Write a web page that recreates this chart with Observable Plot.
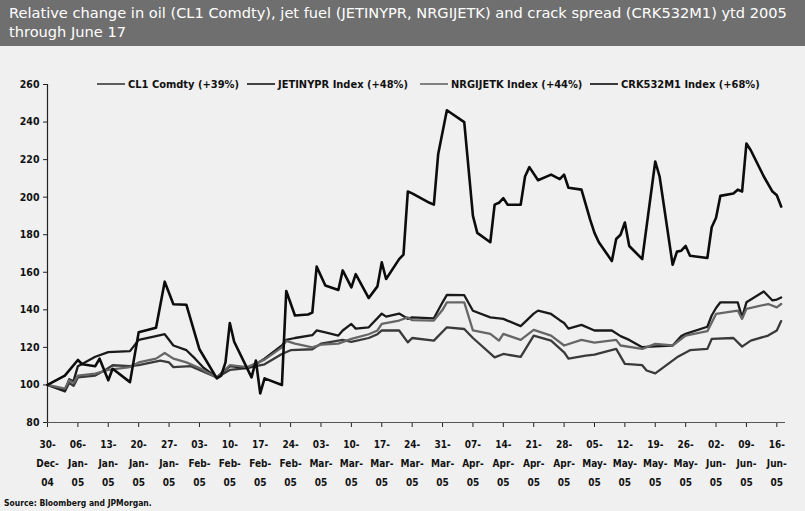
<!DOCTYPE html>
<html>
<head>
<meta charset="utf-8">
<script src="https://cdn.jsdelivr.net/npm/d3@7"></script>
<script src="https://cdn.jsdelivr.net/npm/@observablehq/plot@0.6"></script>
<style>
  html, body { margin: 0; padding: 0; width: 805px; height: 511px; overflow: hidden; background: #f0f0f0; }
  body { position: relative; font-family: "DejaVu Sans Condensed", "DejaVu Sans", sans-serif; color: #111; }
  #title { position: absolute; left: 0; top: 0; width: 805px; height: 46px; background: #6f6f6f; color: #fff;
           font-family: "DejaVu Sans", sans-serif; font-size: 14.6px; line-height: 19px; padding: 3px 0 0 9px; box-sizing: border-box; white-space: nowrap; }
  #chart { position: absolute; left: 0; top: 50px; }
  .leg { position: absolute; top: 77px; height: 14px; display: flex; align-items: center; font-size: 11px; font-weight: bold; white-space: nowrap; }
  .leg svg { margin-right: 3px; }
  #source { position: absolute; left: 4px; top: 498px; font-size: 8.5px; font-weight: bold; }
</style>
</head>
<body>
<div id="title">Relative change in oil (CL1 Comdty), jet fuel (JETINYPR, NRGIJETK) and crack spread (CRK532M1) ytd 2005<br>through June 17</div>
<div id="chart"></div>
<div id="source">Source: Bloomberg and JPMorgan.</div>
<script>
// ---- data ----
const seriesNames = ["CL1 Comdty (+39%)", "JETINYPR Index (+48%)", "NRGIJETK Index (+44%)", "CRK532M1 Index (+68%)"];

const cl1Dates = ["2004-12-30","2005-01-03","2005-01-04","2005-01-05","2005-01-06","2005-01-10","2005-01-12","2005-01-14","2005-01-18","2005-01-20","2005-01-25","2005-01-27","2005-01-28","2005-02-01","2005-02-03","2005-02-07","2005-02-10","2005-02-14","2005-02-16","2005-02-18","2005-02-22","2005-02-24","2005-03-01","2005-03-03","2005-03-08","2005-03-10","2005-03-14","2005-03-16","2005-03-17","2005-03-21","2005-03-23","2005-03-24","2005-03-29","2005-04-01","2005-04-05","2005-04-07","2005-04-12","2005-04-14","2005-04-18","2005-04-21","2005-04-25","2005-04-28","2005-04-29","2005-05-03","2005-05-05","2005-05-10","2005-05-12","2005-05-16","2005-05-17","2005-05-19","2005-05-24","2005-05-27","2005-05-31","2005-06-01","2005-06-06","2005-06-08","2005-06-10","2005-06-14","2005-06-16","2005-06-17"];
const cl1Values = [100,96.5,101,99.5,104,105,107.5,110.5,110,110.5,113,112,109.5,110,108,104,108,109,110,111,116.5,118.5,119,122,124,123,125,127,129,129,122.7,125,123.6,130.7,129.8,125,114.7,116.5,115,126.3,123.6,117.4,114,115.6,116.2,119.2,111.2,110.5,107.7,106.2,114.7,118.5,119.2,124.5,125,120.4,123.6,126.3,129,134];

const jetDates = ["2004-12-30","2005-01-03","2005-01-04","2005-01-05","2005-01-06","2005-01-10","2005-01-13","2005-01-18","2005-01-20","2005-01-24","2005-01-26","2005-01-28","2005-01-31","2005-02-02","2005-02-04","2005-02-07","2005-02-10","2005-02-14","2005-02-16","2005-02-18","2005-02-22","2005-02-23","2005-02-25","2005-03-01","2005-03-02","2005-03-04","2005-03-07","2005-03-08","2005-03-10","2005-03-11","2005-03-14","2005-03-17","2005-03-18","2005-03-21","2005-03-23","2005-03-24","2005-03-29","2005-03-31","2005-04-01","2005-04-05","2005-04-07","2005-04-11","2005-04-14","2005-04-18","2005-04-21","2005-04-22","2005-04-25","2005-04-27","2005-04-28","2005-04-29","2005-05-02","2005-05-05","2005-05-09","2005-05-11","2005-05-13","2005-05-16","2005-05-19","2005-05-23","2005-05-25","2005-05-26","2005-05-31","2005-06-01","2005-06-02","2005-06-03","2005-06-07","2005-06-08","2005-06-09","2005-06-13","2005-06-15","2005-06-16","2005-06-17"];
const jetValues = [100,97,103,102,110,115,117.5,118,124,126,127,121,118.5,114,109,104,110,109,111,114,121,124,125,126.5,129,128,126.3,129,132.5,130,130.7,138,136.4,138,135.2,136,135.5,144,148,147.8,139.5,136,135.2,131.3,138,139.6,137.8,134.5,133,130,132,129,129,126,124,120.1,120.5,121,126,127.2,131,137,141,144,144,136,144,149.8,145,145.5,146.6];

const nrgDates = ["2004-12-30","2005-01-03","2005-01-04","2005-01-05","2005-01-06","2005-01-10","2005-01-13","2005-01-18","2005-01-20","2005-01-24","2005-01-26","2005-01-28","2005-01-31","2005-02-03","2005-02-07","2005-02-10","2005-02-14","2005-02-16","2005-02-18","2005-02-22","2005-02-23","2005-02-25","2005-03-01","2005-03-03","2005-03-07","2005-03-10","2005-03-14","2005-03-16","2005-03-17","2005-03-21","2005-03-23","2005-03-24","2005-03-29","2005-03-31","2005-04-01","2005-04-05","2005-04-07","2005-04-11","2005-04-13","2005-04-14","2005-04-18","2005-04-21","2005-04-25","2005-04-28","2005-05-02","2005-05-05","2005-05-10","2005-05-11","2005-05-16","2005-05-19","2005-05-23","2005-05-26","2005-05-31","2005-06-02","2005-06-07","2005-06-08","2005-06-09","2005-06-14","2005-06-16","2005-06-17"];
const nrgValues = [100,98,102.5,101,105,106,108,109.5,112,114,117,114,112,109,104,110.5,109.5,111.5,113.5,120,123.5,122,120,121.5,122,124.5,127,129,132.5,134.3,136,134.5,134.3,140,144,144,129,127.2,123.6,127.2,124,129.3,126.3,121,124,122.5,124,121,119.2,121.9,121,126.3,128.6,137.8,139.6,135.2,140.5,143.1,141.3,143.1];

const crkDates = ["2004-12-30","2005-01-03","2005-01-06","2005-01-07","2005-01-10","2005-01-11","2005-01-13","2005-01-14","2005-01-18","2005-01-20","2005-01-24","2005-01-26","2005-01-28","2005-01-31","2005-02-03","2005-02-07","2005-02-08","2005-02-09","2005-02-10","2005-02-11","2005-02-15","2005-02-16","2005-02-17","2005-02-18","2005-02-22","2005-02-23","2005-02-25","2005-02-28","2005-03-01","2005-03-02","2005-03-04","2005-03-07","2005-03-08","2005-03-10","2005-03-11","2005-03-14","2005-03-16","2005-03-17","2005-03-18","2005-03-21","2005-03-22","2005-03-23","2005-03-24","2005-03-28","2005-03-29","2005-03-30","2005-04-01","2005-04-05","2005-04-07","2005-04-08","2005-04-11","2005-04-12","2005-04-13","2005-04-14","2005-04-15","2005-04-18","2005-04-19","2005-04-20","2005-04-22","2005-04-25","2005-04-27","2005-04-28","2005-04-29","2005-05-02","2005-05-03","2005-05-04","2005-05-05","2005-05-06","2005-05-09","2005-05-10","2005-05-11","2005-05-12","2005-05-13","2005-05-16","2005-05-19","2005-05-20","2005-05-23","2005-05-24","2005-05-25","2005-05-26","2005-05-27","2005-05-31","2005-06-01","2005-06-02","2005-06-03","2005-06-06","2005-06-07","2005-06-08","2005-06-09","2005-06-10","2005-06-13","2005-06-15","2005-06-16","2005-06-17"];
const crkValues = [100,105,113.3,111,110,114,102.5,108.6,101.5,128,130.5,155,143,142.7,119,103.5,105,112,133,123,104,113,95.5,103.5,100,150,137,137.5,138.5,163,153,150.6,161,152,159,146.3,152.5,165.3,156.4,167,169.4,203,202,197,196,223,246.3,240,190,181,176,196,197,199.5,196,196,211,216,209,212,209.6,212,205,204,196,188,181,176,166,177.7,180,186.5,174,167,219,211,164,171,171.5,174,168.8,167.6,184,189,200.7,202,204,203,228.6,225,211,203,201,195];

const tickDates = ["2004-12-30","2005-01-06","2005-01-13","2005-01-20","2005-01-27","2005-02-03","2005-02-10","2005-02-17","2005-02-24","2005-03-03","2005-03-10","2005-03-17","2005-03-24","2005-03-31","2005-04-07","2005-04-14","2005-04-21","2005-04-28","2005-05-05","2005-05-12","2005-05-19","2005-05-26","2005-06-02","2005-06-09","2005-06-16"];
const yTicks = [80,100,120,140,160,180,200,220,240,260];

// ---- styling (not data) ----
const seriesColors = ["#3a3a3a", "#1a1a1a", "#666666", "#0c0c0c"];
const seriesWidths = [2.3, 2.3, 2.3, 2.6];
const legendLeft = [97, 247, 420, 590];

const parse = s => new Date(s + "T00:00:00Z");
const toRows = (dates, values) => dates.map((d, i) => ({date: parse(d), value: values[i]}));
const series = [
  toRows(cl1Dates, cl1Values),
  toRows(jetDates, jetValues),
  toRows(nrgDates, nrgValues),
  toRows(crkDates, crkValues)
];

const xStart = parse("2004-12-30");
const xEnd = parse("2005-06-18");

const chart = Plot.plot({
  width: 805,
  height: 445,
  marginLeft: 47,
  marginRight: 20,
  marginTop: 34,
  marginBottom: 73,
  style: {background: "transparent", fontFamily: "'DejaVu Sans Condensed','DejaVu Sans',sans-serif", fontWeight: "bold", color: "#111", overflow: "visible"},
  x: {type: "utc", domain: [xStart, xEnd]},
  y: {domain: [80, 260]},
  marks: [
    Plot.axisY({ticks: yTicks, tickSize: 4, tickPadding: 4, label: null, fontSize: 10.5, stroke: "#222"}),
    Plot.axisX({ticks: tickDates.map(parse), tickSize: 5, tickPadding: 7, label: null, fontSize: 10,
                lineHeight: 1.9, tickFormat: d3.utcFormat("%d-\n%b-\n%y"), stroke: "#222"}),
    Plot.ruleX([xStart], {stroke: "#222", strokeWidth: 1.2}),
    Plot.ruleY([80], {stroke: "#555", strokeWidth: 1.2}),
    ...series.map((rows, i) => Plot.line(rows, {x: "date", y: "value", stroke: seriesColors[i], strokeWidth: seriesWidths[i], strokeLinejoin: "round"}))
  ]
});
document.getElementById("chart").appendChild(chart);

// legend
seriesNames.forEach((name, i) => {
  const div = document.createElement("div");
  div.className = "leg";
  div.style.left = legendLeft[i] + "px";
  div.innerHTML = `<svg width="28" height="6"><line x1="0" y1="3" x2="28" y2="3" stroke="${seriesColors[i]}" stroke-width="1.6"/></svg><span>${name}</span>`;
  document.body.appendChild(div);
});
</script>
</body>
</html>
